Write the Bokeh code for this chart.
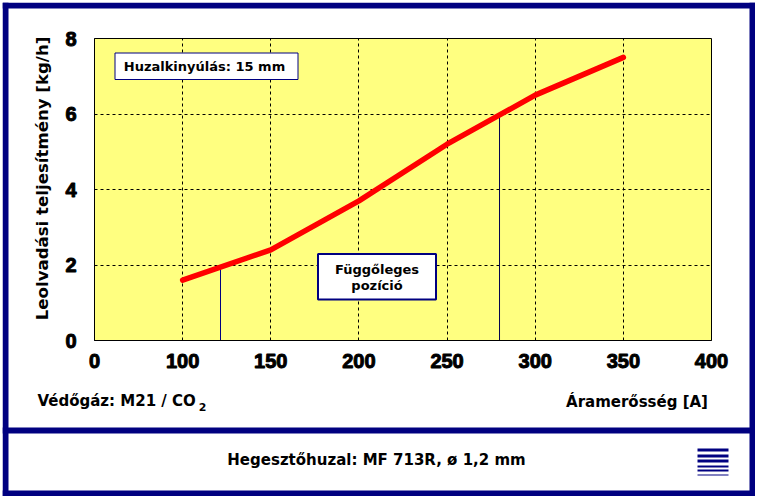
from bokeh.plotting import figure
from bokeh.models import BoxAnnotation, Label, FixedTicker, Range1d
from bokeh.embed import file_html
from bokeh.resources import INLINE
import math

x_labels = [0, 100, 150, 200, 250, 300, 350, 400]
y_ticks = [0, 2, 4, 6, 8]
current = [100, 150, 200, 250, 300, 350]
deposition = [1.6, 2.4, 3.7, 5.2, 6.5, 7.5]
guide_current = [121.48, 279.75]
guide_value = [1.95, 5.97]
guide_colors = ["#000080", "#000050"]

NAVY = "#000080"
W, H = 753, 494
def pos(a):
    return (a - 50) / 50 if a >= 100 else a / 100

# ---- sheet: the navy frame and the texts around the plot ----
sheet = figure(width=W, height=H, output_backend="svg", toolbar_location=None,
               x_range=Range1d(0, W), y_range=Range1d(H, 0),
               x_axis_location=None, y_axis_location=None,
               min_border=0, min_border_left=0, min_border_right=0,
               min_border_top=0, min_border_bottom=0,
               background_fill_color="white", border_fill_color="white",
               outline_line_color=None)
sheet.grid.visible = False
sheet.margin = (2, 0, 0, 2)

def box(fig, l, t, r, b, fill=NAVY, line=None, width=1):
    fig.add_layout(BoxAnnotation(left=l, right=r, top=t, bottom=b,
                                 left_units="canvas", right_units="canvas",
                                 top_units="canvas", bottom_units="canvas",
                                 fill_color=fill, fill_alpha=1,
                                 line_color=line, line_width=width, line_alpha=1))

def text(fig, x, y, s, size="13px", align="left", angle=0):
    fig.add_layout(Label(x=x, y=y, x_units="canvas", y_units="canvas", text=s, angle=angle,
                         text_font="DejaVu Sans", text_font_style="bold", text_font_size=size,
                         text_color="black", text_align=align, text_baseline="middle"))

for l, t, r, b in [(0, 0, 753, 6), (0, 0, 6, 494), (747, 0, 753, 494),
                   (0, 488, 753, 494), (0, 425, 753, 431)]:
    box(sheet, l, t, r, b)
for t, b in [(446, 449), (452, 455), (457, 460), (463, 465), (467, 469), (472, 473)]:
    box(sheet, 695, t, 726, b)

text(sheet, 35, 398, "Védőgáz: M21 / CO", "15px")
text(sheet, 200, 404.5, "2", "11px", "center")
text(sheet, 634.5, 399, "Áramerősség [A]", "15px", "center")
text(sheet, 374, 457, "Hegesztőhuzal: MF 713R, ø 1,2 mm", "15px", "center")
text(sheet, 40, 176, "Leolvadási teljesítmény [kg/h]", "16.6px", "center", angle=math.pi / 2)

# ---- the chart, laid over the sheet ----
p = figure(width=W, height=H, output_backend="svg", toolbar_location=None,
           x_range=Range1d(0, 7), y_range=Range1d(0, 8),
           min_border_left=92, min_border_right=44, min_border_top=36, min_border_bottom=156,
           background_fill_color="#FFFF80", border_fill_color=None,
           outline_line_color="black", outline_line_width=1)
p.margin = (-H, 0, 0, 2)

p.xaxis.ticker = FixedTicker(ticks=[pos(v) for v in x_labels])
p.xaxis.major_label_overrides = {pos(v): str(v) for v in x_labels}
p.yaxis.ticker = FixedTicker(ticks=y_ticks)
for ax in (p.xaxis[0], p.yaxis[0]):
    ax.major_tick_line_color = None
    ax.minor_tick_line_color = None
    ax.axis_line_color = "black"
    ax.major_label_text_font = "Liberation Sans"
    ax.major_label_text_font_style = "bold"
    ax.major_label_text_font_size = "20px"
    ax.major_label_text_color = "black"
    if "major_label_text_outline_color" in ax.properties():
        ax.major_label_text_outline_color = "black"
p.xaxis.major_label_standoff = 7
p.yaxis.major_label_standoff = 12

for g in (p.xgrid[0], p.ygrid[0]):
    g.grid_line_color = "black"
    g.grid_line_dash = "3 3"
    g.grid_line_width = 1

for a, v, c in zip(guide_current, guide_value, guide_colors):
    p.segment([pos(a)], [0], [pos(a)], [v], line_color=c, line_width=1)
p.line([pos(a) for a in current], deposition, line_color="#FF0000", line_width=5.5,
       line_join="round", line_cap="round")

box(p, 112.5, 50.5, 295.5, 77, fill="white", line=NAVY, width=1)
box(p, 315.5, 251.5, 433.5, 297, fill="white", line=NAVY, width=2)
text(p, 202, 64, "Huzalkinyúlás: 15 mm", align="center")
text(p, 374.5, 267, "Függőleges", align="center")
text(p, 374.5, 283, "pozíció", align="center")

open("out.html", "w").write(file_html([sheet, p], INLINE))
